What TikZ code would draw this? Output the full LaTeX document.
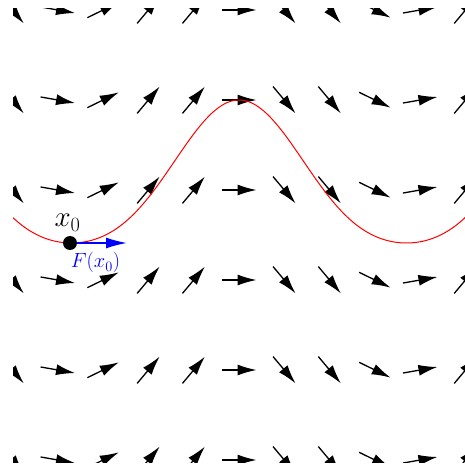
\RequirePackage{fix-cm}
\documentclass[tikz,border=0pt]{standalone}
\usetikzlibrary{arrows.meta,calc}
\begin{document}
\begin{tikzpicture}[x=1pt,y=1pt,
  fieldarrow/.style={line width=1.3pt, -{Latex[length=19pt,width=11pt]}},
  solcurve/.style={red, line width=1pt},
  forcearrow/.style={blue, line width=1.5pt, -{Latex[length=21pt,width=11pt]}},
  dotstyle/.style={circle, fill=black, inner sep=0pt, minimum size=14pt},
  biglabel/.style={anchor=base, font=\fontsize{29}{33}\selectfont},
  smalllabel/.style={anchor=base, text=blue, font=\fontsize{20.5}{24}\selectfont}]
\useasboundingbox (0,0) rectangle (465,469);
\begin{scope}
  \clip (13,6) rectangle (466,460);
  \foreach \n/\a in {-5/-50,-4/-10,-3/26,-2/50,-1/50,0/0,1/-50,2/-50,3/-26,4/10,5/50} {
    \foreach \r in {0,...,5} {
      \coordinate (c) at ({239+45.3*\n}, {459-90*\r});
      \draw[fieldarrow] ($(c)+(\a+180:17.5)$) -- ($(c)+(\a:17.5)$);
    }
  }
  \draw[solcurve] plot[domain=13:466, samples=200]
    (\x, {369-143*(0.5*(1-cos(1.07463*(\x-239)))+0.06*(1-cos(2.14925*(\x-239))))});
\end{scope}
\coordinate (p0) at (70,226);
\coordinate (Fend) at (127,226);
\draw[forcearrow] (p0) -- (Fend);
\node[dotstyle] (x0) at (p0) {};
\node[biglabel] (lx) at (67.5,242) {$x_0$};
\node[smalllabel] (lf) at (95.5,201) {$F(x_0)$};
\end{tikzpicture}
\end{document}
